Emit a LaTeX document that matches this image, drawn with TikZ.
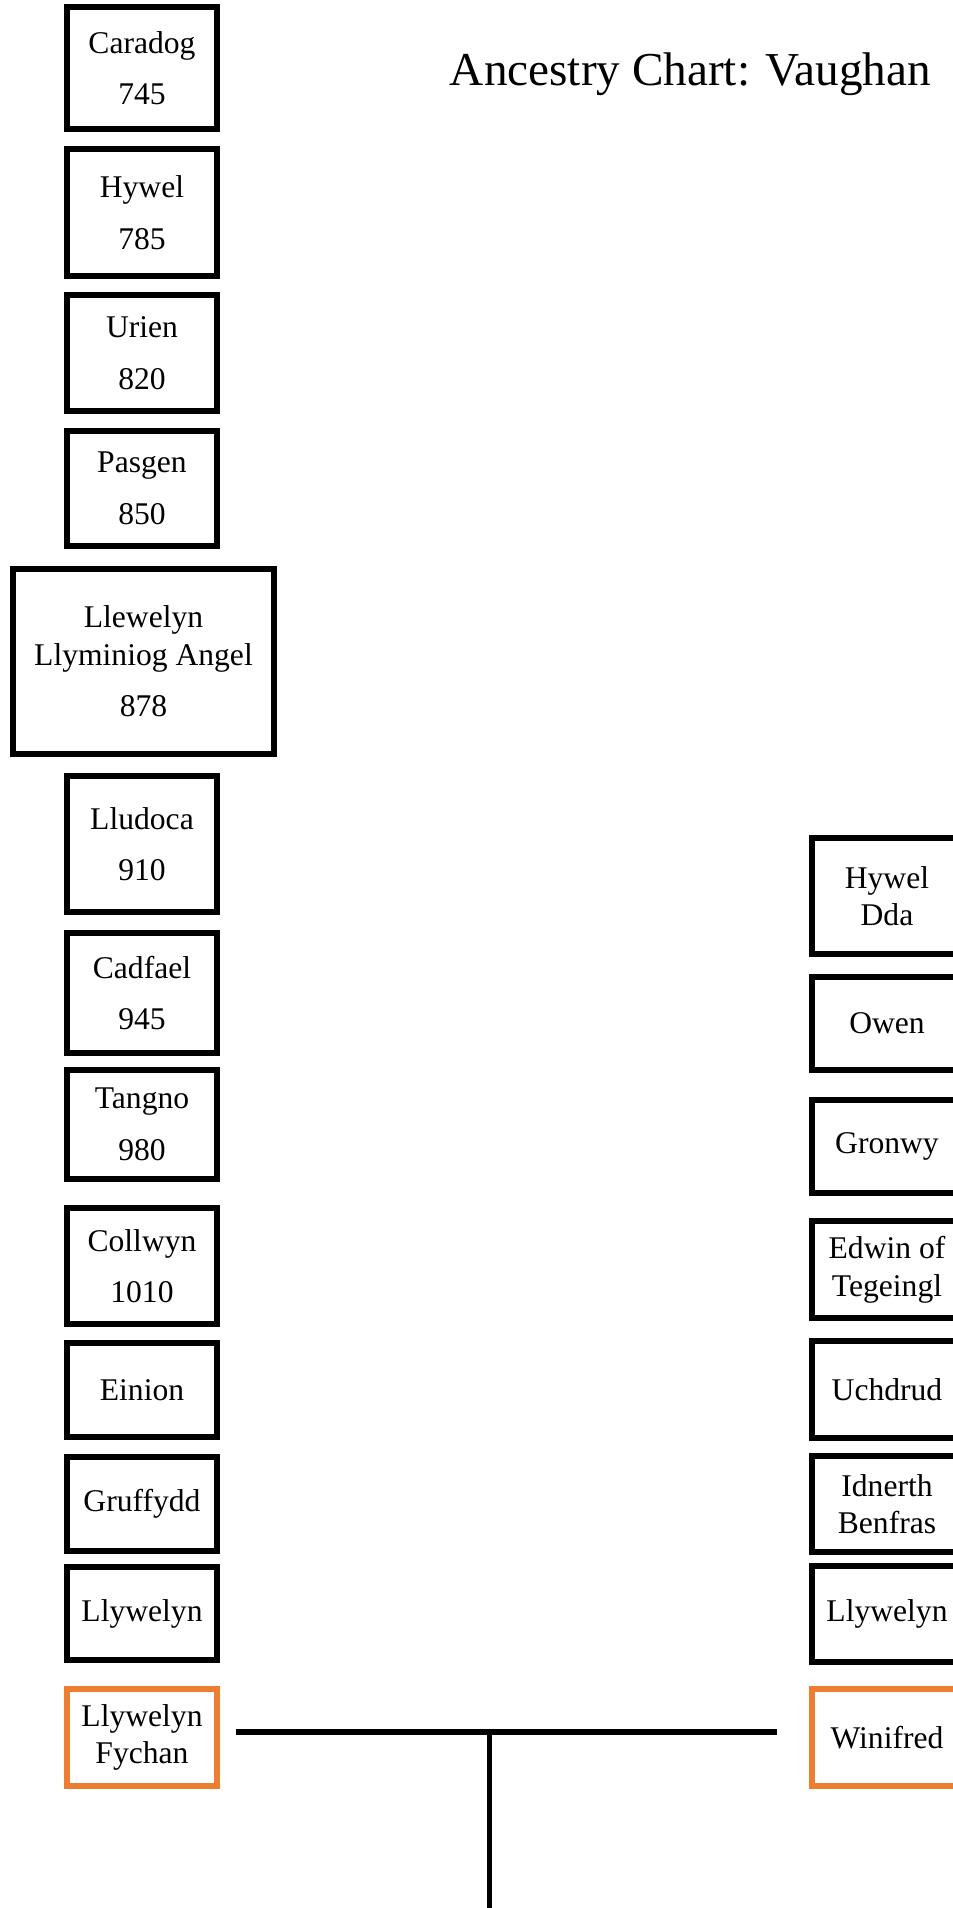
\documentclass[tikz,border=0pt]{standalone}
\usepackage{fontspec}
\setmainfont{Liberation Serif}
\definecolor{famorange}{RGB}{237,125,49}
\tikzset{
  person/.style={draw=black, line width=3.25pt, minimum width=75pt, inner sep=0pt,
    align=center, fill=white, font=\fontsize{15.8}{18.8}\selectfont},
  spouse/.style={person, draw=famorange},
  famline/.style={draw=black, line width=3pt},
  descline/.style={draw=black, line width=2.5pt}
}
\begin{document}
\begin{tikzpicture}[x=0.5pt,y=-0.5pt]
\useasboundingbox (0,0) rectangle (953,1908);
\node[anchor=base, font=\fontsize{23.6}{28}\selectfont] (title) at (690.5,85) {Ancestry Chart: Vaughan};
% left column
\node[person, minimum height=61pt] (l1) at (142,68) {Caradog\\[7pt]745};
\node[person, minimum height=63.5pt] (l2) at (142,212.5) {Hywel\\[7pt]785};
\node[person, minimum height=58pt] (l3) at (142,353) {Urien\\[7pt]820};
\node[person, minimum height=57.5pt] (l4) at (142,488.5) {Pasgen\\[7pt]850};
\node[person, minimum height=92.5pt, minimum width=130.5pt] (l5) at (143.5,661.5) {Llewelyn\\Llyminiog Angel\\[7pt]878};
\node[person, minimum height=68pt] (l6) at (142,844) {Lludoca\\[7pt]910};
\node[person, minimum height=60pt] (l7) at (142,993) {Cadfael\\[7pt]945};
\node[person, minimum height=54.5pt] (l8) at (142,1124.5) {Tangno\\[7pt]980};
\node[person, minimum height=58pt] (l9) at (142,1266) {Collwyn\\[7pt]1010};
\node[person, minimum height=47pt] (l10) at (142,1390) {Einion};
\node[person, minimum height=47pt] (l11) at (142,1504) {Gruffydd};
\node[person, minimum height=46.5pt] (l12) at (142,1613.5) {Llywelyn};
\node[spouse, minimum height=48.5pt] (lf) at (142,1737.5) {Llywelyn\\Fychan};
% right column
\node[person, minimum height=58pt] (r1) at (887,896) {Hywel\\Dda};
\node[person, minimum height=46.5pt] (r2) at (887,1023.5) {Owen};
\node[person, minimum height=46.5pt] (r3) at (887,1146.5) {Gronwy};
\node[person, minimum height=48.5pt] (r4) at (887,1269.5) {Edwin of\\Tegeingl};
\node[person, minimum height=48.5pt] (r5) at (887,1389.5) {Uchdrud};
\node[person, minimum height=48pt] (r6) at (887,1504) {Idnerth\\Benfras};
\node[person, minimum height=48pt] (r7) at (887,1614) {Llywelyn};
\node[spouse, minimum height=48.5pt] (rw) at (887,1737.5) {Winifred};
% family connector
\coordinate (fa) at ([xshift=8pt]lf.east);
\coordinate (fb) at ([xshift=-16pt]rw.west);
\coordinate (junc) at (489,1732);
\coordinate (down) at (489,1908);
\draw[famline] (fa |- junc) -- (fb |- junc);
\draw[descline] (junc) -- (down);
\end{tikzpicture}
\end{document}
